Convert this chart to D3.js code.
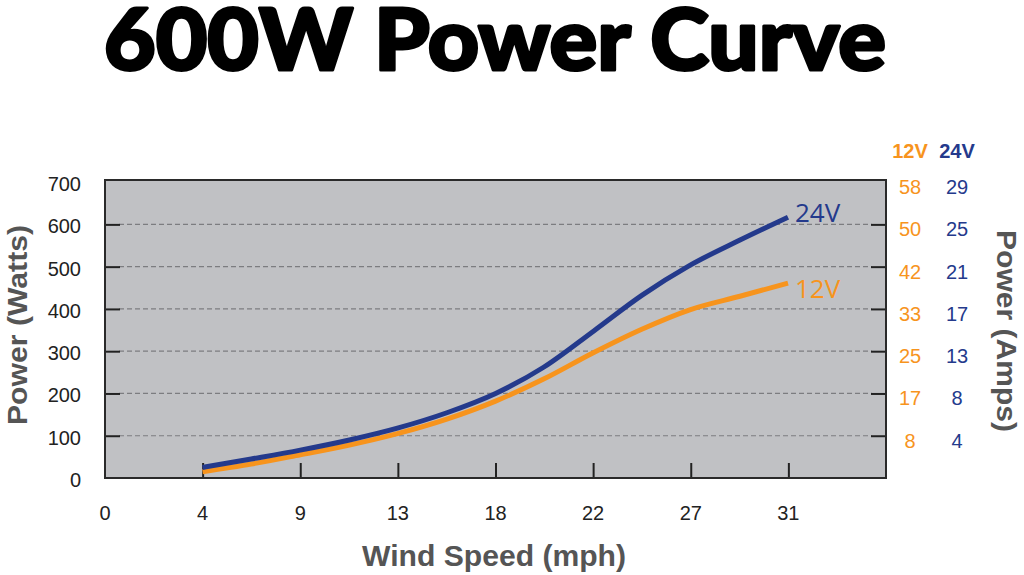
<!DOCTYPE html>
<html>
<head>
<meta charset="utf-8">
<script src="https://cdn.jsdelivr.net/npm/d3@7"></script>
<style>
  body { margin: 0; background: #fff; }
  svg { display: block; }
</style>
</head>
<body>
<div class="chart"></div>
<script>
// Wind speed ticks are whole m/s steps shown in mph
const MPH = 2.23694
const tickMs = [0, 2, 4, 6, 8, 10, 12, 14]
const tickLabels = ["0", "4", "9", "13", "18", "22", "27", "31"]

// Curves (mph, watts)
const speeds = [4.47, 6.7, 8.95, 11.2, 13.4, 15.7, 17.9, 20.1, 22.4, 24.6, 26.8, 29.1, 31.3]
const watts24 = [25, 45, 66, 90, 118, 155, 200, 262, 348, 432, 503, 563, 617]
const watts12 = [15, 33, 55, 78, 105, 140, 182, 234, 297, 352, 398, 430, 461]

const wattTicks = [0, 100, 200, 300, 400, 500, 600, 700]
const amps12 = ["8", "17", "25", "33", "42", "50", "58"]
const amps24 = ["4", "8", "13", "17", "21", "25", "29"]

const BLUE = "#243a8c"
const ORANGE = "#f7941d"

const width = 1024
const height = 575
const margin = {top: 180, left: 105, right: 138, bottom: 96}

const svg = d3.select(".chart").append("svg")
    .attr("width", width)
    .attr("height", height)
    .attr("viewBox", [0, 0, width, height])

const x = d3.scaleLinear()
    .domain([0, 16 * MPH])
    .range([margin.left, width - margin.right])

const y = d3.scaleLinear()
    .domain([0, 705])
    .range([height - margin.bottom - 1, margin.top])

// Title (stroke thickens the glyphs towards a black weight)
svg.append("text")
    .attr("x", 104)
    .attr("y", 70)
    .attr("textLength", 782)
    .attr("lengthAdjust", "spacingAndGlyphs")
    .attr("font-family", "Lato, 'DejaVu Sans', sans-serif")
    .attr("font-weight", 900)
    .attr("font-size", 86)
    .attr("fill", "#000")
    .attr("stroke", "#000")
    .attr("stroke-width", 3)
    .attr("stroke-linejoin", "round")
    .text("600W Power Curve")

// Plot background
svg.append("rect")
    .attr("x", x.range()[0])
    .attr("y", margin.top)
    .attr("width", x.range()[1] - x.range()[0])
    .attr("height", y(0) - margin.top)
    .attr("fill", "#c0c1c4")

// Dashed grid lines
svg.append("g")
    .selectAll("line")
    .data(wattTicks.slice(1, -1))
    .join("line")
    .attr("x1", x.range()[0] + 14)
    .attr("x2", x.range()[1] - 14)
    .attr("y1", d => y(d))
    .attr("y2", d => y(d))
    .attr("stroke", "#7c7d80")
    .attr("stroke-width", 1.2)
    .attr("stroke-dasharray", "5,3")

// Short solid ticks on both sides, pointing inwards
svg.append("g")
    .attr("transform", `translate(${x.range()[0]},0)`)
    .call(d3.axisRight(y).tickValues(wattTicks.slice(1, -1)).tickSize(15).tickFormat(""))
    .call(g => g.select(".domain").remove())
    .call(g => g.selectAll("line").attr("stroke", "#222").attr("stroke-width", 2))

svg.append("g")
    .attr("transform", `translate(${x.range()[1]},0)`)
    .call(d3.axisLeft(y).tickValues(wattTicks.slice(1, -1)).tickSize(15).tickFormat(""))
    .call(g => g.select(".domain").remove())
    .call(g => g.selectAll("line").attr("stroke", "#222").attr("stroke-width", 2))

svg.append("g")
    .selectAll("text")
    .data(wattTicks)
    .join("text")
    .attr("x", 81)
    .attr("y", d => y(d) + 2)
    .attr("dy", "0.35em")
    .attr("text-anchor", "end")
    .attr("font-family", "'Liberation Sans', Arial, sans-serif")
    .attr("font-size", 20)
    .attr("fill", "#222")
    .text(d => d)

// Bottom axis, ticks pointing up
svg.append("g")
    .attr("transform", `translate(0,${y(0)})`)
    .call(d3.axisTop(x).tickValues(tickMs.slice(1).map(d => d * MPH)).tickSize(15).tickFormat(""))
    .call(g => g.select(".domain").remove())
    .call(g => g.selectAll("line").attr("stroke", "#222").attr("stroke-width", 2))

svg.append("g")
    .selectAll("text")
    .data(tickMs)
    .join("text")
    .attr("x", d => x(d * MPH))
    .attr("y", 520)
    .attr("text-anchor", "middle")
    .attr("font-family", "'Liberation Sans', Arial, sans-serif")
    .attr("font-size", 20)
    .attr("fill", "#222")
    .text((d, i) => tickLabels[i])

// Plot frame
svg.append("rect")
    .attr("x", x.range()[0])
    .attr("y", margin.top)
    .attr("width", x.range()[1] - x.range()[0])
    .attr("height", y(0) - margin.top)
    .attr("fill", "none")
    .attr("stroke", "#2a2a2a")
    .attr("stroke-width", 2)

// Curves
const line = d3.line()
    .x(d => x(d[0]))
    .y(d => y(d[1]))
    .curve(d3.curveMonotoneX)

const series = [
    {name: "12V", values: watts12, color: ORANGE, dy: 6},
    {name: "24V", values: watts24, color: BLUE, dy: -4}
]

svg.append("g")
    .attr("fill", "none")
    .attr("stroke-width", 5)
    .selectAll("path")
    .data(series)
    .join("path")
    .attr("stroke", d => d.color)
    .attr("d", d => line(speeds.map((s, i) => [s, d.values[i]])))

svg.append("g")
    .selectAll("text")
    .data(series)
    .join("text")
    .attr("x", x(speeds[speeds.length - 1]) + 7)
    .attr("y", d => y(d.values[d.values.length - 1]) + d.dy)
    .attr("dy", "0.35em")
    .attr("font-family", "'Open Sans', 'Liberation Sans', sans-serif")
    .attr("font-size", 26)
    .attr("fill", d => d.color)
    .text(d => d.name)

// Right hand amps columns
const ampCols = [
    {head: "12V", labels: amps12, color: ORANGE, cx: 910},
    {head: "24V", labels: amps24, color: BLUE, cx: 957}
]

const cols = svg.append("g")
    .selectAll("g")
    .data(ampCols)
    .join("g")
    .attr("fill", d => d.color)
    .attr("font-family", "'Liberation Sans', Arial, sans-serif")
    .attr("text-anchor", "middle")

cols.append("text")
    .attr("x", d => d.cx)
    .attr("y", 158)
    .attr("font-weight", "bold")
    .attr("font-size", 20)
    .text(d => d.head)

cols.selectAll(".amp")
    .data(d => d.labels.map((l, i) => ({l, w: wattTicks[i + 1], cx: d.cx})))
    .join("text")
    .attr("class", "amp")
    .attr("x", d => d.cx)
    .attr("y", d => y(d.w) + 5)
    .attr("dy", "0.35em")
    .attr("font-size", 20)
    .text(d => d.l)

// Axis titles
const axisTitle = (sel, size) => sel
    .attr("text-anchor", "middle")
    .attr("font-family", "'Liberation Sans', Arial, sans-serif")
    .attr("font-weight", "bold")
    .attr("font-size", size)
    .attr("lengthAdjust", "spacingAndGlyphs")
    .attr("fill", "#555")

svg.append("text")
    .attr("transform", "translate(27,325) rotate(-90)")
    .attr("textLength", 200)
    .call(axisTitle, 28)
    .text("Power (Watts)")

svg.append("text")
    .attr("transform", "translate(997,331) rotate(90)")
    .attr("textLength", 202)
    .call(axisTitle, 28)
    .text("Power (Amps)")

svg.append("text")
    .attr("x", 494)
    .attr("y", 566)
    .attr("textLength", 264)
    .call(axisTitle, 30)
    .text("Wind Speed (mph)")
</script>
</body>
</html>
